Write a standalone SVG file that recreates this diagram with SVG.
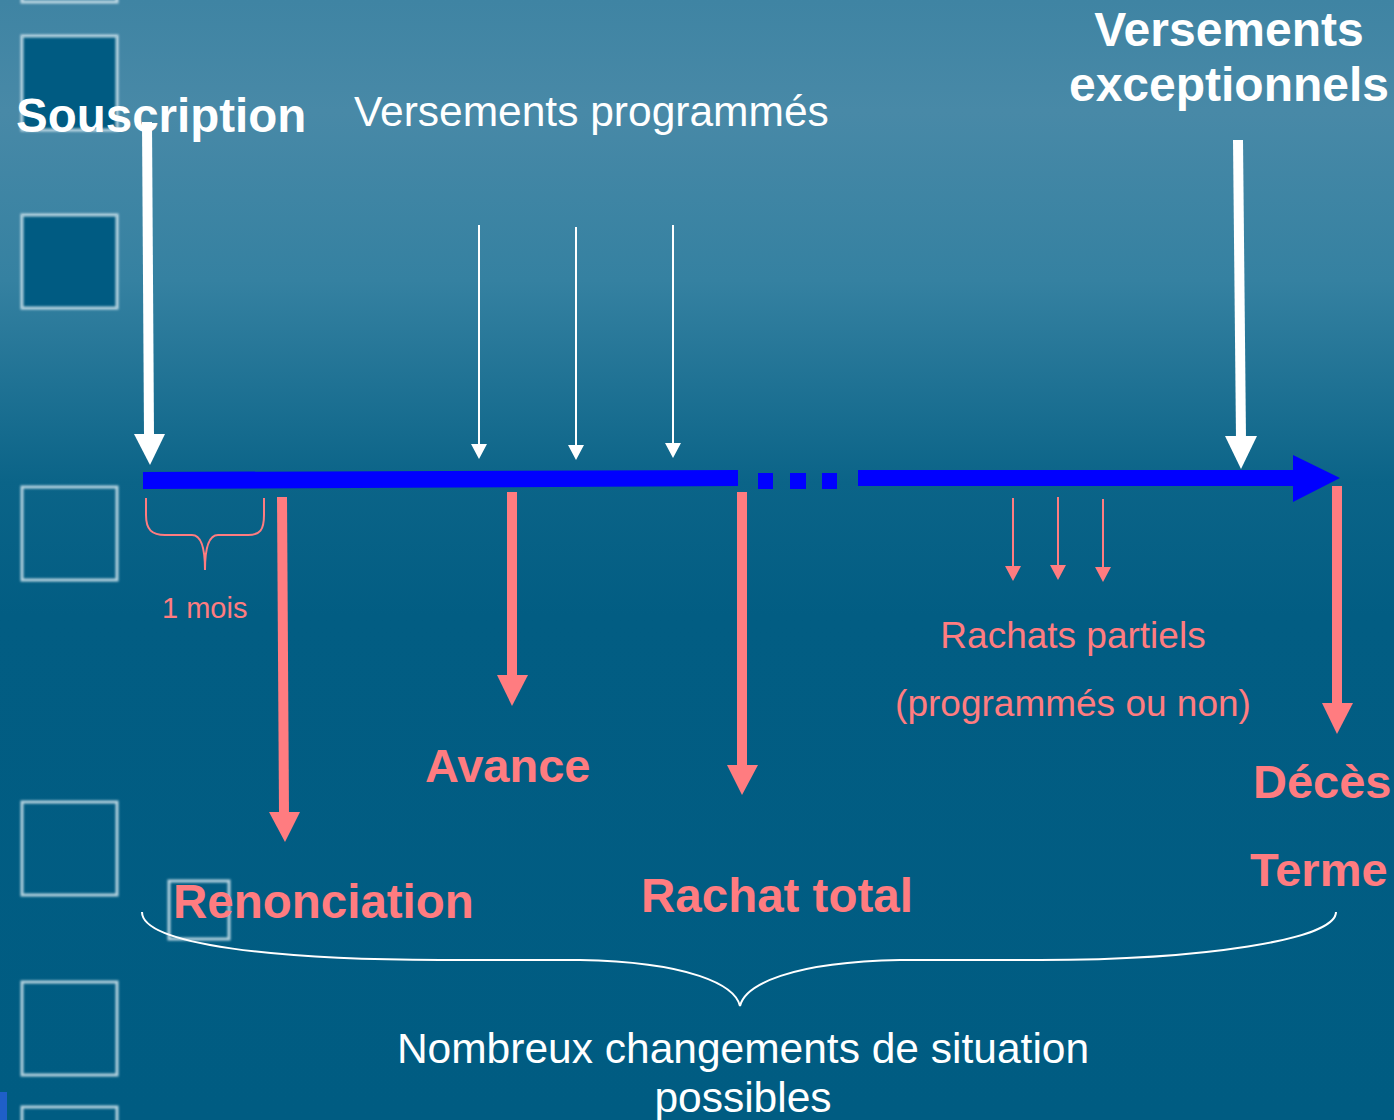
<svg xmlns="http://www.w3.org/2000/svg" width="1394" height="1120" viewBox="0 0 1394 1120">
  <defs>
    <linearGradient id="bg" x1="0" y1="0" x2="0" y2="1">
      <stop offset="0" stop-color="#3f84a3"/>
      <stop offset="0.1" stop-color="#4889a7"/>
      <stop offset="0.25" stop-color="#3581a1"/>
      <stop offset="0.43" stop-color="#0b6488"/>
      <stop offset="0.55" stop-color="#025d83"/>
      <stop offset="1" stop-color="#005c82"/>
    </linearGradient>
    <filter id="glow" x="-10%" y="-10%" width="120%" height="120%">
      <feGaussianBlur stdDeviation="0.8"/>
    </filter>
  </defs>
  <style>
    .sq { stroke: #d4e6ee; stroke-opacity: 0.85; stroke-width: 3; fill: none; }
    .sqf { fill: #005b82; }
    .wt { fill: #ffffff; font-family: "Liberation Sans", Arial, sans-serif; }
    .rd { fill: #ff7c80; font-family: "Liberation Sans", Arial, sans-serif; }
    .b { font-weight: bold; }
    .wl { stroke: #ffffff; fill: none; }
    .rl { stroke: #ff7c80; fill: none; }
    .wh { fill: #ffffff; }
    .rh { fill: #ff7c80; }
    .bl { fill: #0000ff; }
  </style>
  <rect x="0" y="0" width="1394" height="1120" fill="url(#bg)"/>

  <g id="decor">
    <rect class="sq" x="22" y="-92" width="95" height="94" filter="url(#glow)"/>
    <rect class="sqf" x="22" y="36" width="95" height="94"/>
    <rect class="sq" x="22" y="36" width="95" height="94" filter="url(#glow)"/>
    <rect class="sqf" x="22" y="215" width="95" height="93"/>
    <rect class="sq" x="22" y="215" width="95" height="93" filter="url(#glow)"/>
    <rect class="sq" x="22" y="487" width="95" height="93" filter="url(#glow)"/>
    <rect class="sq" x="22" y="802" width="95" height="93" filter="url(#glow)"/>
    <rect class="sq" x="22" y="982" width="95" height="93" filter="url(#glow)"/>
    <rect class="sq" x="22" y="1107" width="95" height="93" filter="url(#glow)"/>
    <rect class="sq" x="169" y="881" width="60" height="58" filter="url(#glow)"/>
    <rect x="0" y="1092" width="7" height="28" fill="#1f5fc8"/>
  </g>

  <g id="timeline">
    <polygon class="bl" points="143,472 738,470 738,486 143,489"/>
    <rect class="bl" x="758" y="473" width="15" height="16"/>
    <rect class="bl" x="790" y="473" width="16" height="16"/>
    <rect class="bl" x="822" y="473" width="15" height="16"/>
    <polygon class="bl" points="858,470 1293,470 1293,455 1340,478 1293,502 1293,486 858,486"/>
  </g>

  <g id="connectors">
    <!-- Souscription -->
    <line class="wl" x1="147" y1="122" x2="149" y2="436" stroke-width="10"/>
    <polygon class="wh" points="134,434 165,434 150,465"/>
    <!-- Versements exceptionnels -->
    <line class="wl" x1="1238" y1="140" x2="1241" y2="438" stroke-width="10"/>
    <polygon class="wh" points="1225,436 1257,436 1241,469"/>
    <!-- Versements programmes -->
    <line class="wl" x1="479" y1="225" x2="479" y2="446" stroke-width="2"/>
    <polygon class="wh" points="471,444 487,444 479,459"/>
    <line class="wl" x1="576" y1="227" x2="576" y2="447" stroke-width="2"/>
    <polygon class="wh" points="568,445 584,445 576,460"/>
    <line class="wl" x1="673" y1="225" x2="673" y2="445" stroke-width="2"/>
    <polygon class="wh" points="665,443 681,443 673,458"/>
    <!-- Renonciation -->
    <line class="rl" x1="282" y1="497" x2="284" y2="814" stroke-width="10"/>
    <polygon class="rh" points="269,812 300,812 285,842"/>
    <!-- Avance -->
    <line class="rl" x1="512" y1="492" x2="512" y2="677" stroke-width="10"/>
    <polygon class="rh" points="497,675 528,675 512,706"/>
    <!-- Rachat total -->
    <line class="rl" x1="742" y1="492" x2="742" y2="767" stroke-width="10"/>
    <polygon class="rh" points="727,765 758,765 742,795"/>
    <!-- Deces -->
    <line class="rl" x1="1337" y1="486" x2="1337" y2="705" stroke-width="10"/>
    <polygon class="rh" points="1322,703 1353,703 1337,734"/>
    <!-- Rachats partiels -->
    <line class="rl" x1="1013" y1="498" x2="1013" y2="568" stroke-width="2"/>
    <polygon class="rh" points="1005,566 1021,566 1013,581"/>
    <line class="rl" x1="1058" y1="497" x2="1058" y2="567" stroke-width="2"/>
    <polygon class="rh" points="1050,565 1066,565 1058,580"/>
    <line class="rl" x1="1103" y1="499" x2="1103" y2="569" stroke-width="2"/>
    <polygon class="rh" points="1095,567 1111,567 1103,582"/>
    <!-- braces -->
    <path class="rl" stroke-width="2" d="M146,498 L146,515 C146,530 152,535 165,535 L192,535 C200,535 205,545 205,570 C205,545 210,535 218,535 L248,535 C260,535 264,530 264,515 L264,498"/>
    <path class="wl" stroke-width="2" d="M142,912 C142,945 280,960 440,960 L580,960 C690,962 735,985 740,1006 C745,985 790,962 900,960 L1040,960 C1200,960 1336,940 1336,912"/>
  </g>

  <g id="labels">
    <text class="wt b" x="16" y="132" font-size="47.5">Souscription</text>
    <text class="wt" x="354" y="126" font-size="42.5">Versements programmés</text>
    <text class="wt b" x="1229" y="46" font-size="48" text-anchor="middle">Versements</text>
    <text class="wt b" x="1229" y="101" font-size="48" text-anchor="middle">exceptionnels</text>
    <text class="rd" x="162" y="618" font-size="29">1 mois</text>
    <text class="rd" x="1073" y="648" font-size="37" text-anchor="middle">Rachats partiels</text>
    <text class="rd" x="1073" y="716" font-size="37" text-anchor="middle">(programmés ou non)</text>
    <text class="rd b" x="425" y="782" font-size="47">Avance</text>
    <text class="rd b" x="173" y="918" font-size="47.5">Renonciation</text>
    <text class="rd b" x="641" y="912" font-size="47.5">Rachat total</text>
    <text class="rd b" x="1253" y="798" font-size="47">Décès</text>
    <text class="rd b" x="1250" y="886" font-size="47">Terme</text>
    <text class="wt" x="743" y="1063" font-size="42.5" text-anchor="middle">Nombreux changements de situation</text>
    <text class="wt" x="743" y="1112" font-size="42.5" text-anchor="middle">possibles</text>
  </g>
</svg>
